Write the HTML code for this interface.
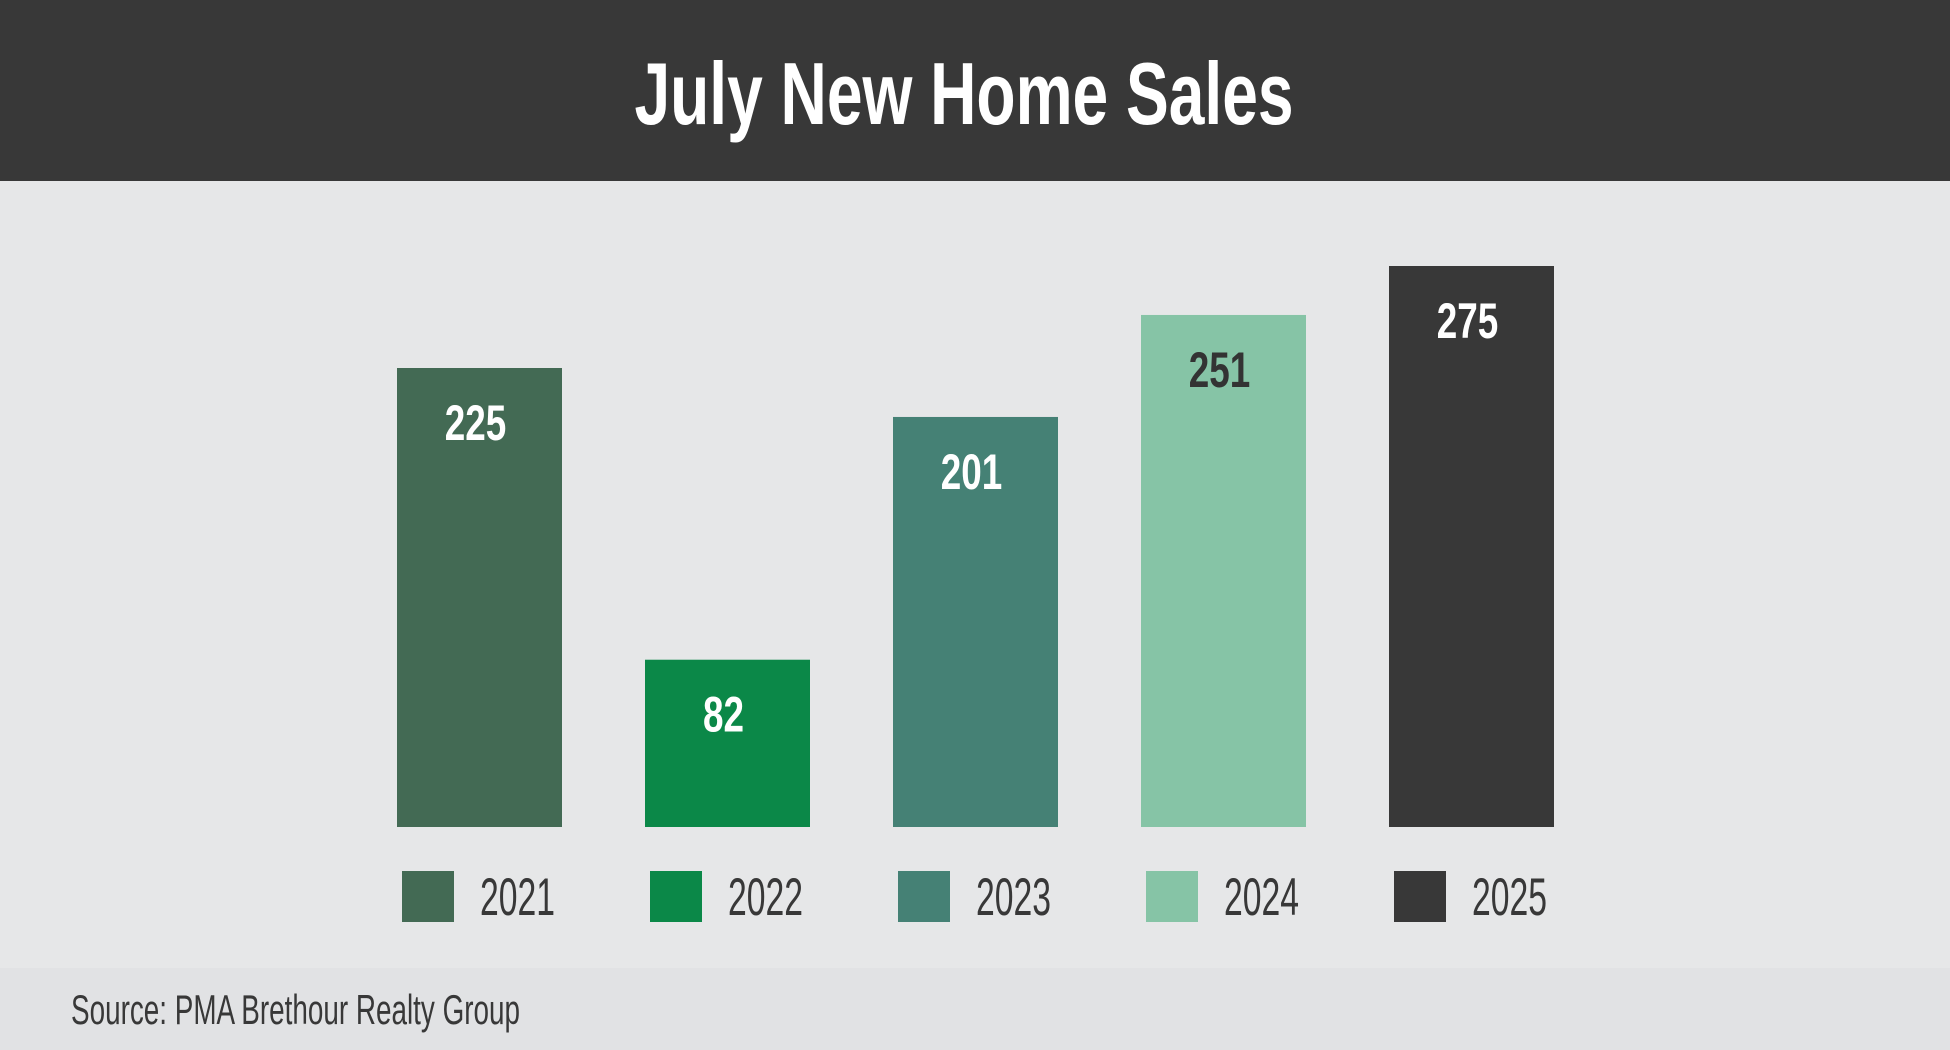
<!DOCTYPE html>
<html><head><meta charset="utf-8"><style>
html,body{margin:0;padding:0;background:#e6e7e8;}
svg{display:block;font-family:"Liberation Sans Narrow","Liberation Sans",sans-serif;}
</style></head><body>
<svg id="chart" width="1950" height="1050" viewBox="0 0 1950 1050">
<rect x="0" y="0" width="1950" height="1050" fill="#e6e7e8"/>
<rect x="0" y="0" width="1950" height="181" fill="#383838"/>
<text x="964" y="124" text-anchor="middle" font-size="88" font-weight="bold" fill="#ffffff" textLength="659" lengthAdjust="spacingAndGlyphs">July New Home Sales</text>
<rect x="0" y="968" width="1950" height="82" fill="#e1e2e4"/>
<text x="71" y="1024" font-size="42" fill="#383838" textLength="449" lengthAdjust="spacingAndGlyphs">Source: PMA Brethour Realty Group</text>
<g id="bars"></g>
<g id="legend"></g>
</svg>
<script>
const categories = ["2021","2022","2023","2024","2025"];
const values = [225, 82, 201, 251, 275];
const colors = ["#436a54","#0b8848","#458175","#86c4a6","#383838"];
const labelColors = ["#ffffff","#ffffff","#ffffff","#333333","#ffffff"];

const NS = "http://www.w3.org/2000/svg";
const baseY = 827, pxPerUnit = 2.04, x0 = 397, step = 248, barW = 165;
function xPos(i){ return x0 + i*step; }
function yPos(v){ return baseY - v*pxPerUnit; }

const barsG = document.getElementById("bars");
const legG = document.getElementById("legend");
categories.forEach((c,i)=>{
  const v = values[i];
  const r = document.createElementNS(NS,"rect");
  r.setAttribute("x", xPos(i));
  r.setAttribute("y", yPos(v));
  r.setAttribute("width", barW);
  r.setAttribute("height", baseY - yPos(v));
  r.setAttribute("fill", colors[i]);
  
  
  barsG.appendChild(r);

  const t = document.createElementNS(NS,"text");
  t.setAttribute("x", xPos(i) + barW/2 - 4);
  t.setAttribute("y", yPos(v) + 72);
  t.setAttribute("text-anchor","middle");
  t.setAttribute("font-size","50");
  t.setAttribute("font-weight","bold");
  t.setAttribute("fill", labelColors[i]);
  const s = String(v);
  t.setAttribute("textLength", s.length*20.5);
  t.setAttribute("lengthAdjust","spacingAndGlyphs");
  t.textContent = s;
  
  
  barsG.appendChild(t);

  const sw = document.createElementNS(NS,"rect");
  sw.setAttribute("x", xPos(i) + 5);
  sw.setAttribute("y", 871);
  sw.setAttribute("width", 52);
  sw.setAttribute("height", 51);
  sw.setAttribute("fill", colors[i]);
  
  
  legG.appendChild(sw);

  const lt = document.createElementNS(NS,"text");
  lt.setAttribute("x", xPos(i) + 83);
  lt.setAttribute("y", 915);
  lt.setAttribute("font-size","53");
  lt.setAttribute("fill","#383838");
  lt.setAttribute("textLength", 75);
  lt.setAttribute("lengthAdjust","spacingAndGlyphs");
  lt.textContent = c;
  
  
  legG.appendChild(lt);
});
</script>
</body></html>
